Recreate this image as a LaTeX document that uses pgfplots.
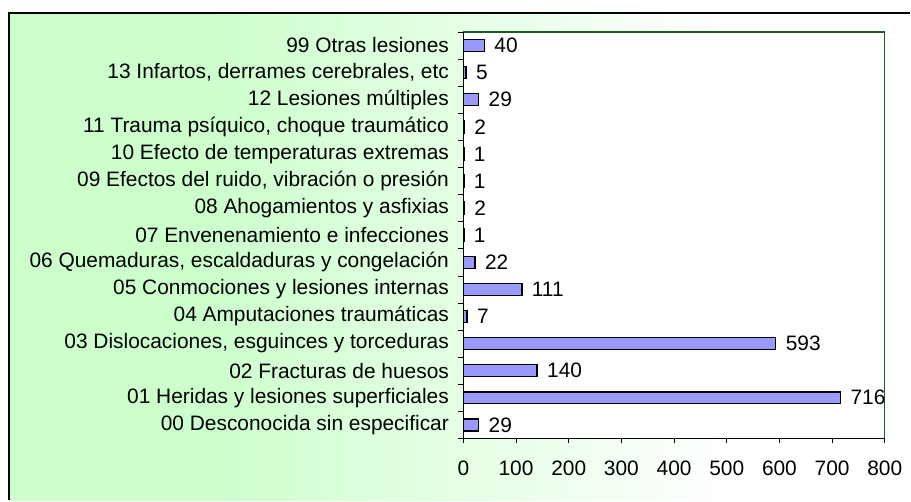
\documentclass[border=0pt]{standalone}
\usepackage{fontspec}
\setmainfont{Liberation Sans}
\usepackage{pgfplots}
\usepackage{pgfplotstable}
\pgfplotsset{compat=1.18}

\definecolor{bggreen}{HTML}{CCFFCC}
\definecolor{framegreen}{HTML}{1F5C1F}
\definecolor{barblue}{HTML}{9999FF}
\pgfdeclarehorizontalshading{bgshade}{100bp}{color(0bp)=(bggreen); color(36bp)=(bggreen); color(65bp)=(white); color(100bp)=(white)}

\pgfplotstableread[col sep=semicolon]{
pos;value;label
0;29;00 Desconocida sin especificar
1;716;01 Heridas y lesiones superficiales
2;140;02 Fracturas de huesos
3;593;03 Dislocaciones, esguinces y torceduras
4;7;04 Amputaciones traumáticas
5;111;05 Conmociones y lesiones internas
6;22;06 Quemaduras, escaldaduras y congelación
7;1;07 Envenenamiento e infecciones
8;2;08 Ahogamientos y asfixias
9;1;09 Efectos del ruido, vibración o presión
10;1;10 Efecto de temperaturas extremas
11;2;11 Trauma psíquico, choque traumático
12;29;12 Lesiones múltiples
13;5;13 Infartos, derrames cerebrales, etc
14;40;99 Otras lesiones
}\lesiones

\begin{document}
\begin{tikzpicture}[x=1bp,y=1bp]
\fill[white] (0,0) rectangle (911,501);
\shade[shading=bgshade] (9,0) rectangle (911,488);
\draw[line width=2.5bp] (9,0) -- (9,488) -- (911,488);

\begin{axis}[
    at={(464bp,62bp)}, anchor=south west,
    scale only axis,
    width=422bp, height=407bp,
    xbar, bar width=12bp,
    xmin=0, xmax=800,
    ymin=-0.5, ymax=14.5,
    xtick={0,100,...,800},
    ytick={0,...,14},
    yticklabels from table={\lesiones}{label},
    minor ytick={-0.5,0.5,...,14.5},
    xtick pos=bottom, ytick pos=left,
    tick align=outside,
    major tick length=5bp,
    minor tick length=5bp,
    tick style={black, line width=0.6bp},
    major y tick style={draw=none},
    axis background/.style={fill=white},
    axis line style={draw=framegreen, line width=1.2bp},
    /pgf/number format/assume math mode=true,
    ticklabel style={font=\fontsize{21}{23}\selectfont},
    yticklabel style={xshift=-6bp},
    xticklabel style={yshift=-14bp},
    nodes near coords,
    nodes near coords style={anchor=west, xshift=6bp, font=\fontsize{21}{23}\selectfont,
        /pgf/number format/assume math mode=true},
    clip=false,
]
\addplot[fill=barblue, draw=black, line width=1.5bp] table[x=value, y=pos] {\lesiones};
\draw[black, line width=1.5bp] (rel axis cs:0,1) -- (rel axis cs:0,0) -- (rel axis cs:1,0);
\end{axis}
\end{tikzpicture}
\end{document}
